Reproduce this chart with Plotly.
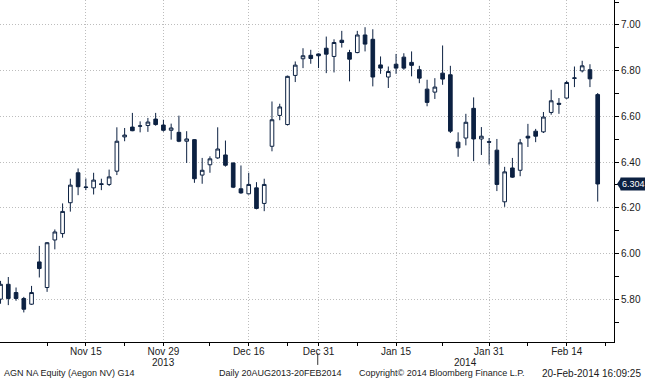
import pandas as pd
import plotly.graph_objects as go

# ---- data ----
holidays = ["2013-12-25", "2013-12-26", "2014-01-01"]
dates = [d for d in pd.bdate_range("2013-10-31", "2014-02-20").strftime("%Y-%m-%d") if d not in holidays]

opens = [5.800, 5.865, 5.829, 5.803, 5.778, 5.963, 5.851, 6.059, 6.087, 6.222,
         6.353, 6.291, 6.287, 6.305, 6.302, 6.360, 6.510, 6.553, 6.557, 6.560,
         6.588, 6.562, 6.539, 6.530, 6.491, 6.498, 6.343, 6.388, 6.418, 6.431,
         6.396, 6.283, 6.261, 6.287, 6.219, 6.469, 6.604, 6.564, 6.779, 6.852,
         6.867, 6.873, 6.898, 6.862, 6.933, 6.879, 6.879, 6.956, 6.937, 6.825,
         6.772, 6.828, 6.859, 6.836, 6.804, 6.719, 6.706, 6.789, 6.782, 6.487,
         6.505, 6.635, 6.501, 6.489, 6.452, 6.226, 6.374, 6.364, 6.513, 6.535,
         6.532, 6.617, 6.657, 6.680, 6.766, 6.799, 6.804, 6.695]
highs = [5.880, 5.897, 5.851, 5.810, 5.858, 6.033, 6.050, 6.105, 6.219, 6.327,
         6.372, 6.328, 6.353, 6.327, 6.367, 6.552, 6.549, 6.615, 6.578, 6.593,
         6.615, 6.585, 6.568, 6.603, 6.535, 6.500, 6.418, 6.425, 6.552, 6.494,
         6.398, 6.385, 6.353, 6.312, 6.327, 6.665, 6.655, 6.778, 6.840, 6.898,
         6.891, 6.875, 6.949, 6.937, 6.974, 6.891, 6.974, 6.990, 6.981, 6.862,
         6.818, 6.873, 6.876, 6.884, 6.821, 6.760, 6.767, 6.910, 6.821, 6.530,
         6.611, 6.683, 6.553, 6.505, 6.501, 6.379, 6.418, 6.501, 6.567, 6.545,
         6.619, 6.716, 6.680, 6.756, 6.818, 6.843, 6.828, 6.702]
lows = [5.780, 5.774, 5.793, 5.742, 5.775, 5.895, 5.832, 6.018, 6.069, 6.183,
        6.255, 6.277, 6.258, 6.277, 6.295, 6.343, 6.491, 6.535, 6.530, 6.532,
        6.559, 6.533, 6.498, 6.487, 6.396, 6.309, 6.305, 6.353, 6.414, 6.380,
        6.286, 6.261, 6.258, 6.193, 6.185, 6.447, 6.583, 6.560, 6.750, 6.811,
        6.830, 6.811, 6.789, 6.792, 6.901, 6.753, 6.876, 6.884, 6.731, 6.786,
        6.724, 6.786, 6.804, 6.775, 6.745, 6.644, 6.676, 6.738, 6.527, 6.423,
        6.473, 6.404, 6.431, 6.389, 6.273, 6.204, 6.331, 6.338, 6.466, 6.487,
        6.527, 6.607, 6.611, 6.677, 6.728, 6.792, 6.728, 6.227]
closes = [5.865, 5.803, 5.803, 5.756, 5.829, 5.934, 6.047, 6.094, 6.184, 6.299,
          6.292, 6.289, 6.321, 6.302, 6.335, 6.491, 6.518, 6.537, 6.558, 6.575,
          6.564, 6.539, 6.549, 6.491, 6.501, 6.327, 6.364, 6.414, 6.457, 6.386,
          6.290, 6.265, 6.302, 6.197, 6.302, 6.585, 6.641, 6.775, 6.824, 6.865,
          6.853, 6.865, 6.872, 6.923, 6.923, 6.850, 6.956, 6.916, 6.772, 6.811,
          6.796, 6.811, 6.811, 6.823, 6.767, 6.661, 6.728, 6.763, 6.535, 6.462,
          6.574, 6.501, 6.513, 6.487, 6.302, 6.357, 6.334, 6.484, 6.505, 6.513,
          6.597, 6.668, 6.653, 6.748, 6.768, 6.821, 6.764, 6.304]

major_tick_dates = ["2013-11-15", "2013-11-29", "2013-12-16", "2013-12-31",
                    "2014-01-15", "2014-01-31", "2014-02-14"]
major_tick_labels = ["Nov 15", "Nov 29", "Dec 16", "Dec 31", "Jan 15", "Jan 31", "Feb 14"]
minor_tick_dates = ["2013-11-08", "2013-11-22", "2013-12-09", "2013-12-23",
                    "2014-01-08", "2014-01-23", "2014-02-07"]
last_price = closes[-1]
last_label = "6.304"

NAVY = "#0c2142"
FONT = "Liberation Sans, Arial, sans-serif"
TXT = "#1a1a1a"
GRID = "#bdbdbd"

idx = list(range(len(dates)))
pos = {d: i for i, d in enumerate(dates)}
major_vals = [pos[d] for d in major_tick_dates]
minor_vals = [pos[d] for d in minor_tick_dates] + [len(dates)]

YMIN, YMAX = 5.6126, 7.109
XMIN, XMAX = -0.07, 79.1

fig = go.Figure()
fig.add_trace(go.Candlestick(
    x=idx, open=opens, high=highs, low=lows, close=closes,
    increasing=dict(line=dict(color=NAVY, width=1), fillcolor="white"),
    decreasing=dict(line=dict(color=NAVY, width=1), fillcolor=NAVY),
    whiskerwidth=0, hoverinfo="skip", showlegend=False,
))

fig.update_layout(
    width=645, height=380,
    margin=dict(l=0, r=31, t=0, b=38),
    paper_bgcolor="white", plot_bgcolor="white",
    boxgap=0.33,
    font=dict(family=FONT, size=10, color=TXT),
    showlegend=False,
    xaxis=dict(
        range=[XMIN, XMAX], rangeslider=dict(visible=False),
        tickmode="array", tickvals=major_vals, ticktext=major_tick_labels,
        ticks="outside", ticklen=3, tickcolor="black", tickwidth=1,
        ticklabelstandoff=-3,
        showline=True, linecolor="black", linewidth=1,
        showgrid=True, gridcolor=GRID, griddash="1px,2px", gridwidth=1,
        zeroline=False,
        tickfont=dict(family=FONT, size=10, color=TXT),
        minor=dict(tickmode="array", tickvals=minor_vals, ticks="outside",
                   ticklen=3, tickcolor="black", showgrid=False),
    ),
    yaxis=dict(
        range=[YMIN, YMAX], side="right",
        tickmode="linear", tick0=5.8, dtick=0.2, tickformat=".2f",
        ticks="outside", ticklen=4, tickcolor="black",
        showline=True, linecolor="black", linewidth=1,
        showgrid=True, gridcolor=GRID, griddash="1px,2px", gridwidth=1,
        zeroline=False,
        tickfont=dict(family=FONT, size=10, color=TXT),
        minor=dict(tick0=5.7, dtick=0.1, ticks="outside", ticklen=4,
                   tickcolor="black", showgrid=False),
    ),
)

# last price flag
yp = (last_price - YMIN) / (YMAX - YMIN)
fig.add_shape(type="path", xref="paper", yref="paper",
              xsizemode="pixel", ysizemode="pixel", xanchor=1, yanchor=yp,
              path="M 3,0 L 7,6 L 7,-6 Z", fillcolor=NAVY, line=dict(width=0))
fig.add_annotation(x=1, xref="paper", y=last_price, yref="y", xanchor="left",
                   xshift=6, text=last_label, showarrow=False, bgcolor=NAVY,
                   font=dict(family=FONT, size=9, color="white"), borderpad=1)

# year labels and separator
fig.add_annotation(x=pos["2013-11-29"], xref="x", y=0, yref="paper", yshift=-20,
                   yanchor="middle", text="2013", showarrow=False)
fig.add_annotation(x=60, xref="x", y=0, yref="paper", yshift=-20,
                   yanchor="middle", text="2014", showarrow=False)
fig.add_shape(type="line", xref="x", yref="paper", x0=pos["2013-12-31"] - 0.1,
              x1=pos["2013-12-31"] - 0.1, y0=-0.032, y1=-0.067,
              line=dict(color="#333333", width=1))

# footer
footer = [
    (0, "left", 2, 9, "AGN NA Equity (Aegon NV) G14"),
    (217 / 614, "left", 0, 9, "Daily 20AUG2013-20FEB2014"),
    (357 / 614, "left", 0, 9, "Copyright\u00a9 2014 Bloomberg Finance L.P."),
    (643 / 614, "right", 0, 10, "20-Feb-2014 16:09:25"),
]
for xp, anc, xs, fs, t in footer:
    fig.add_annotation(x=xp, xref="paper", y=0, yref="paper", yshift=-31,
                       xanchor=anc, xshift=xs, yanchor="middle", text=t,
                       showarrow=False, font=dict(family=FONT, size=fs, color=TXT))

fig.write_html("out.html", config={"displayModeBar": False},
               post_script="document.body.style.margin='0';")
